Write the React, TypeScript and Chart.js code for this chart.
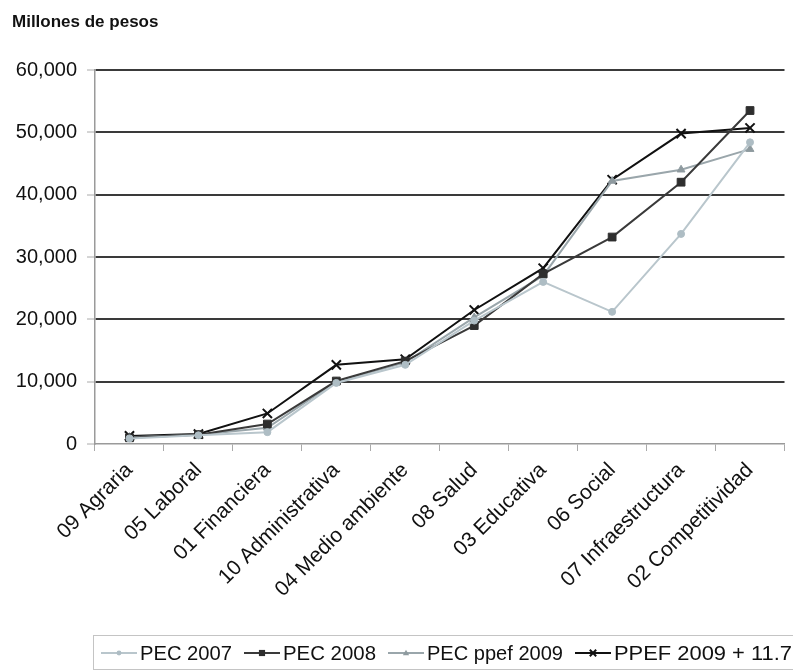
import React, { useEffect, useRef } from "react";
import { Chart, registerables } from "chart.js";

Chart.register(...registerables);

const categories = [
  "09 Agraria",
  "05 Laboral",
  "01 Financiera",
  "10 Administrativa",
  "04 Medio ambiente",
  "08 Salud",
  "03 Educativa",
  "06 Social",
  "07 Infraestructura",
  "02 Competitividad",
];

const pec2007 = [900, 1400, 1900, 9800, 12700, 19800, 26000, 21200, 33700, 48400];
const pec2008 = [1000, 1500, 3200, 10100, 13300, 19000, 27300, 33200, 42000, 53500];
const pecPpef2009 = [1100, 1500, 2600, 10000, 13100, 20300, 27000, 42200, 44000, 47300];
const ppef2009Plus = [1300, 1600, 4900, 12700, 13600, 21500, 28200, 42400, 49800, 50700];

const seriesNames = ["PEC 2007", "PEC 2008", "PEC ppef 2009", "PPEF 2009 + 11.7"];
const yTicksMax = 60000;
const yTickStep = 10000;
const titleText = "Millones de pesos";

const FONT = "'Liberation Sans', Arial, Helvetica, sans-serif";

const styles = [
  { line: "#b9c6cc", point: "#aebdc4", style: "circle", radius: 3.5, bw: 1 },
  { line: "#3a3a3a", point: "#2e2e2e", style: "rect", radius: 5.5, bw: 1 },
  { line: "#9aa6ab", point: "#8e9a9f", style: "triangle", radius: 4.5, bw: 1 },
  { line: "#111111", point: "#111111", style: "crossRot", radius: 6.5, bw: 2 },
];

const legendX = [101, 244, 388, 575];

function drawMarker(ctx: CanvasRenderingContext2D, style: string, x: number, y: number, r: number, color: string, bw: number) {
  ctx.save();
  ctx.fillStyle = color;
  ctx.strokeStyle = color;
  ctx.lineWidth = bw;
  ctx.beginPath();
  if (style === "circle") {
    ctx.arc(x, y, r, 0, Math.PI * 2);
    ctx.fill();
  } else if (style === "rect") {
    ctx.rect(x - r * 0.8, y - r * 0.8, r * 1.6, r * 1.6);
    ctx.fill();
  } else if (style === "triangle") {
    ctx.moveTo(x, y - r);
    ctx.lineTo(x + r, y + r * 0.7);
    ctx.lineTo(x - r, y + r * 0.7);
    ctx.closePath();
    ctx.fill();
  } else {
    const d = r * 0.7;
    ctx.moveTo(x - d, y - d);
    ctx.lineTo(x + d, y + d);
    ctx.moveTo(x + d, y - d);
    ctx.lineTo(x - d, y + d);
    ctx.stroke();
  }
  ctx.restore();
}

const overlayPlugin = {
  id: "overlay",
  afterDraw(chart: any) {
    const ctx: CanvasRenderingContext2D = chart.ctx;
    ctx.save();
    ctx.font = `bold 17px ${FONT}`;
    ctx.fillStyle = "#111";
    ctx.textBaseline = "alphabetic";
    ctx.textAlign = "left";
    ctx.fillText(titleText, 12, 27);
    ctx.strokeStyle = "#c4c4c4";
    ctx.lineWidth = 1;
    ctx.strokeRect(93.5, 635.5, 720, 34);
    ctx.font = `20px ${FONT}`;
    ctx.textBaseline = "middle";
    const y = 653;
    seriesNames.forEach((name, i) => {
      const s = styles[i];
      const x = legendX[i];
      ctx.strokeStyle = s.line;
      ctx.lineWidth = 2;
      ctx.beginPath();
      ctx.moveTo(x, y);
      ctx.lineTo(x + 36, y);
      ctx.stroke();
      drawMarker(ctx, s.style, x + 18, y, s.radius * 0.7, s.point, s.bw);
      ctx.fillStyle = "#111";
      const tw = ctx.measureText(name).width;
      const next = i < seriesNames.length - 1 ? legendX[i + 1] - 12 : 792;
      const avail = next - (x + 39);
      ctx.save();
      ctx.translate(x + 39, y + 1);
      ctx.scale(Math.max(1, Math.min(1.12, avail / tw)), 1);
      ctx.fillText(name, 0, 0);
      ctx.restore();
    });
    ctx.restore();
  },
};

export default function App() {
  const ref = useRef<HTMLCanvasElement>(null);
  useEffect(() => {
    if (!ref.current) return;
    const data = [pec2007, pec2008, pecPpef2009, ppef2009Plus];
    const chart = new Chart(ref.current, {
      type: "line",
      data: {
        labels: categories,
        datasets: data.map((d, i) => ({
          label: seriesNames[i],
          data: d,
          borderColor: styles[i].line,
          backgroundColor: styles[i].point,
          pointBackgroundColor: styles[i].point,
          pointBorderColor: styles[i].point,
          pointStyle: styles[i].style as any,
          pointRadius: styles[i].radius,
          pointBorderWidth: styles[i].bw,
          borderWidth: 2,
          tension: 0,
          fill: false,
        })),
      },
      options: {
        animation: false,
        responsive: false,
        devicePixelRatio: 1,
        layout: { padding: { top: 70, left: 0, right: 3, bottom: 0 } },
        plugins: {
          legend: { display: false },
          title: { display: false },
          tooltip: { enabled: false },
        },
        scales: {
          x: {
            type: "category",
            offset: true,
            afterFit: (scale: any) => {
              scale.height = 670 - 444;
            },
            grid: {
              display: true,
              offset: true,
              drawOnChartArea: false,
              drawTicks: true,
              tickLength: 7,
              tickColor: "#aaa",
              color: "#aaa",
            },
            border: { display: true, color: "#9a9a9a", width: 1.5 },
            ticks: {
              minRotation: 45,
              maxRotation: 45,
              autoSkip: false,
              padding: 7,
              color: "#111",
              font: { family: FONT, size: 21 },
            },
          },
          y: {
            min: 0,
            max: yTicksMax,
            afterFit: (scale: any) => {
              scale.width = 95;
            },
            grid: {
              color: (c: any) => (c.tick && c.tick.value === 0 ? "rgba(0,0,0,0)" : "#3a3a3a"),
              lineWidth: 2,
              drawTicks: true,
              tickLength: 8,
              tickColor: "#aaa",
              tickWidth: 1,
            },
            border: { display: true, color: "#9a9a9a", width: 1.5 },
            ticks: {
              stepSize: yTickStep,
              padding: 10,
              color: "#111",
              font: { family: FONT, size: 20 },
              callback: (v: any) => Number(v).toLocaleString("en-US"),
            },
          },
        },
      },
      plugins: [overlayPlugin],
    });
    return () => chart.destroy();
  }, []);
  return (
    <div style={{ position: "absolute", left: 0, top: 0, width: 793, height: 670, background: "#fff" }}>
      <canvas ref={ref} width={793} height={670} />
    </div>
  );
}
